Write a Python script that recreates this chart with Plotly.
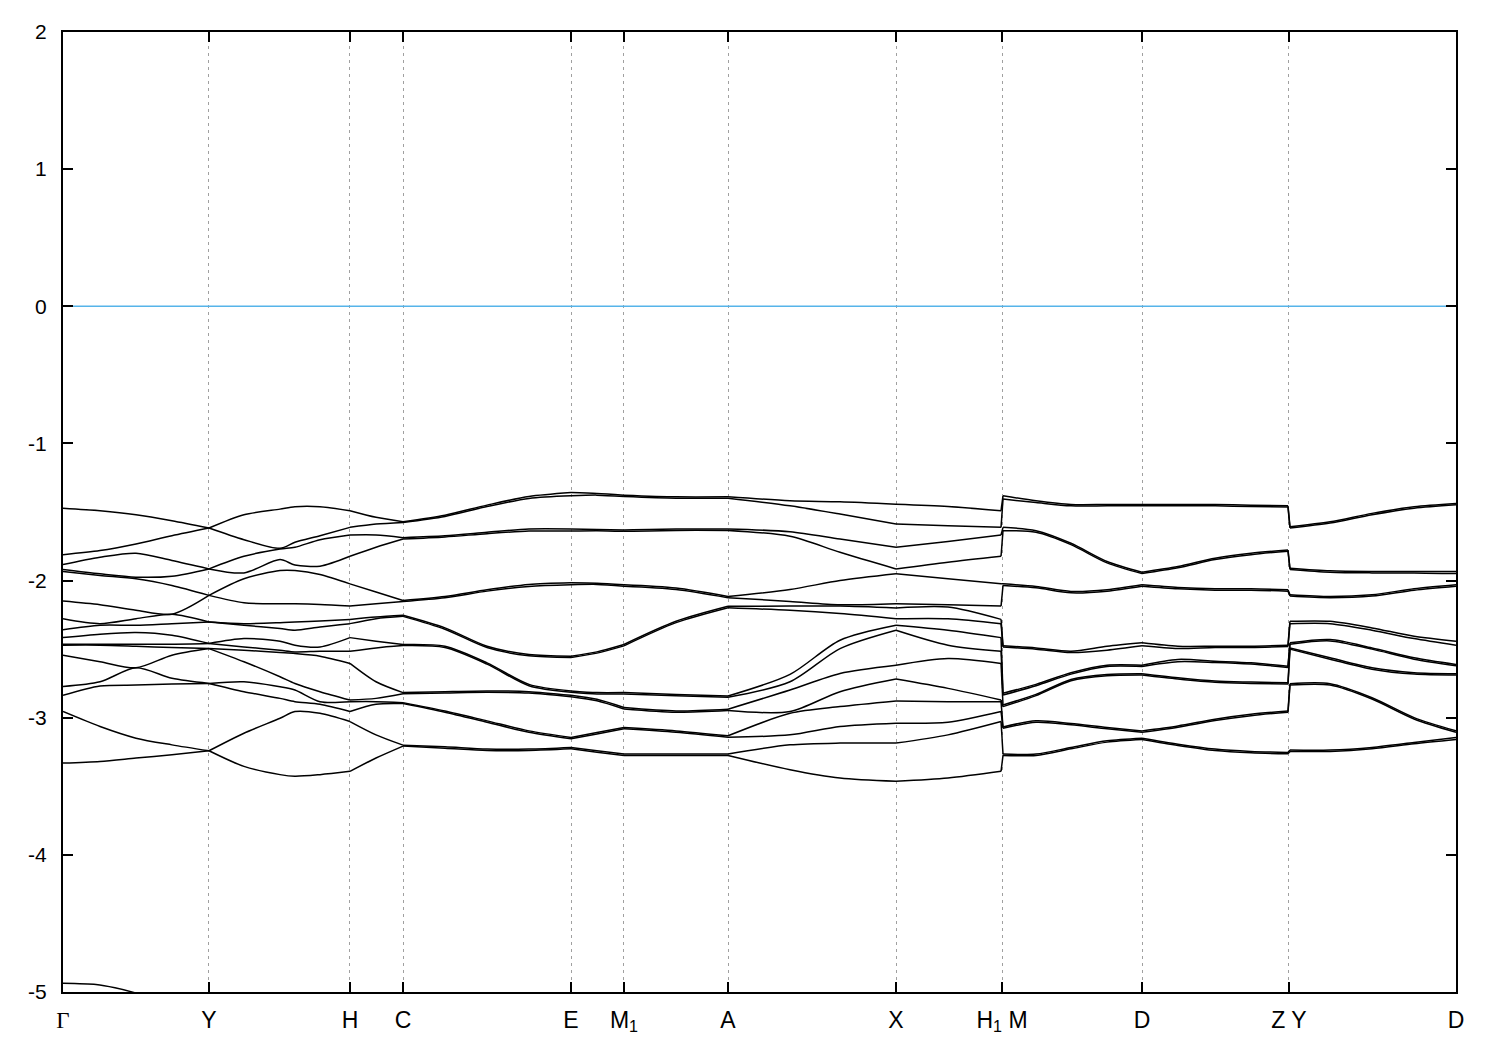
import plotly.graph_objects as go

# ---------------- data (energies in eV) ----------------
# k-path coordinate of each sampled column (Gamma = 0, final D = 1)
k_points = [0.0, 0.0266, 0.0524, 0.0782, 0.1048, 0.1299, 0.1558, 0.1665, 0.1845, 0.2060,
            0.2247, 0.2441, 0.2742, 0.3044, 0.3345, 0.3647, 0.3833, 0.4027, 0.4401, 0.4774,
            0.5219, 0.5578, 0.5980, 0.6353, 0.6734, 0.6748, 0.6985, 0.7236, 0.7495, 0.7746,
            0.8004, 0.8270, 0.8528, 0.8794, 0.8808, 0.9096, 0.9397, 0.9699, 1.0]

# high-symmetry labels and positions
tick_labels = ['<span style="font-family:Liberation Serif">Γ</span>', "Y", "H", "C", "E",
               "M<sub>1</sub>", "A", "X", "H<sub>1</sub> M", "D", "Z Y", "D"]
tick_k = [0.0, 0.1048, 0.2060, 0.2441, 0.3647, 0.4027, 0.4774, 0.5980, 0.6741, 0.7746, 0.8801, 1.0]

energy_ticks = [-5, -4, -3, -2, -1, 0, 1, 2]
energy_tick_text = ["-5", "-4", "-3", "-2", "-1", "0", "1", "2"]

# energies of the 16 bands (sorted) at each column
col00 = [-1.472, -1.811, -1.883, -1.919, -1.934, -2.149, -2.278, -2.358, -2.416, -2.464, -2.471, -2.544, -2.772, -2.837, -2.955, -3.331]
col01 = [-1.491, -1.781, -1.830, -1.951, -1.963, -2.176, -2.314, -2.326, -2.391, -2.464, -2.471, -2.592, -2.738, -2.769, -3.064, -3.319]
col02 = [-1.520, -1.733, -1.801, -1.975, -1.987, -2.217, -2.278, -2.326, -2.379, -2.464, -2.479, -2.636, -2.636, -2.762, -3.149, -3.294]
col03 = [-1.564, -1.673, -1.854, -1.968, -2.036, -2.245, -2.245, -2.314, -2.399, -2.464, -2.488, -2.544, -2.713, -2.755, -3.198, -3.270]
col04 = [-1.617, -1.617, -1.915, -1.915, -2.108, -2.108, -2.302, -2.302, -2.459, -2.459, -2.496, -2.496, -2.750, -2.750, -3.241, -3.241]
col05 = [-1.520, -1.702, -1.823, -1.944, -1.987, -2.162, -2.314, -2.326, -2.423, -2.484, -2.508, -2.592, -2.738, -2.810, -3.113, -3.355]
col06 = [-1.479, -1.765, -1.770, -1.847, -1.927, -2.169, -2.307, -2.350, -2.442, -2.508, -2.525, -2.701, -2.774, -2.859, -3.004, -3.415]
col07 = [-1.462, -1.721, -1.757, -1.886, -1.927, -2.169, -2.302, -2.362, -2.471, -2.520, -2.532, -2.750, -2.798, -2.883, -2.955, -3.427]
col08 = [-1.462, -1.673, -1.702, -1.895, -1.956, -2.174, -2.295, -2.338, -2.484, -2.515, -2.551, -2.810, -2.883, -2.902, -2.968, -3.415]
col09 = [-1.491, -1.612, -1.668, -1.823, -2.024, -2.186, -2.283, -2.314, -2.416, -2.515, -2.604, -2.871, -2.883, -2.955, -3.028, -3.391]
col10 = [-1.539, -1.588, -1.668, -1.757, -2.084, -2.169, -2.266, -2.278, -2.442, -2.491, -2.738, -2.859, -2.883, -2.902, -3.125, -3.294]
col11 = [-1.571, -1.576, -1.687, -1.697, -2.145, -2.152, -2.253, -2.261, -2.466, -2.474, -2.817, -2.825, -2.890, -2.897, -3.200, -3.207]
col12 = [-1.523, -1.532, -1.673, -1.682, -2.116, -2.125, -2.345, -2.355, -2.479, -2.488, -2.810, -2.820, -2.951, -2.960, -3.212, -3.222]
col13 = [-1.450, -1.460, -1.648, -1.658, -2.067, -2.077, -2.479, -2.488, -2.600, -2.609, -2.805, -2.815, -3.023, -3.033, -3.229, -3.239]
col14 = [-1.387, -1.401, -1.624, -1.639, -2.028, -2.043, -2.539, -2.549, -2.757, -2.767, -2.810, -2.820, -3.096, -3.106, -3.229, -3.239]
col15 = [-1.358, -1.382, -1.624, -1.639, -2.016, -2.031, -2.551, -2.561, -2.805, -2.815, -2.837, -2.847, -3.144, -3.154, -3.217, -3.227]
col16 = [-1.365, -1.377, -1.627, -1.636, -2.019, -2.028, -2.520, -2.529, -2.817, -2.827, -2.866, -2.876, -3.108, -3.118, -3.241, -3.251]
col17 = [-1.377, -1.387, -1.631, -1.641, -2.031, -2.041, -2.466, -2.476, -2.817, -2.827, -2.926, -2.936, -3.072, -3.081, -3.265, -3.275]
col18 = [-1.389, -1.399, -1.624, -1.634, -2.055, -2.065, -2.297, -2.307, -2.830, -2.839, -2.951, -2.960, -3.096, -3.106, -3.265, -3.275]
col19 = [-1.389, -1.399, -1.624, -1.634, -2.116, -2.125, -2.188, -2.198, -2.842, -2.851, -2.938, -2.948, -3.132, -3.142, -3.265, -3.275]
col20 = [-1.418, -1.455, -1.644, -1.677, -2.065, -2.152, -2.186, -2.217, -2.684, -2.738, -2.798, -2.955, -2.968, -3.125, -3.198, -3.379]
col21 = [-1.426, -1.515, -1.697, -1.794, -2.000, -2.176, -2.186, -2.241, -2.435, -2.496, -2.677, -2.810, -2.919, -3.064, -3.185, -3.440]
col22 = [-1.443, -1.588, -1.757, -1.915, -1.951, -2.169, -2.200, -2.278, -2.326, -2.362, -2.617, -2.718, -2.878, -3.040, -3.185, -3.464]
col23 = [-1.460, -1.600, -1.716, -1.866, -1.987, -2.176, -2.193, -2.278, -2.362, -2.471, -2.568, -2.786, -2.883, -3.033, -3.125, -3.440]
col24 = [-1.491, -1.612, -1.668, -1.823, -2.024, -2.186, -2.283, -2.314, -2.416, -2.515, -2.604, -2.871, -2.883, -2.955, -3.028, -3.391]
col25 = [-1.382, -1.406, -1.612, -1.636, -2.024, -2.036, -2.476, -2.484, -2.822, -2.834, -2.907, -2.919, -3.067, -3.077, -3.265, -3.275]
col26 = [-1.418, -1.431, -1.636, -1.648, -2.043, -2.053, -2.491, -2.500, -2.757, -2.767, -2.830, -2.839, -3.023, -3.033, -3.265, -3.275]
col27 = [-1.445, -1.455, -1.728, -1.738, -2.079, -2.089, -2.515, -2.525, -2.672, -2.682, -2.721, -2.730, -3.043, -3.052, -3.217, -3.227]
col28 = [-1.445, -1.455, -1.861, -1.871, -2.067, -2.077, -2.479, -2.508, -2.617, -2.626, -2.684, -2.694, -3.072, -3.081, -3.168, -3.178]
col29 = [-1.445, -1.455, -1.939, -1.949, -2.031, -2.041, -2.454, -2.476, -2.617, -2.626, -2.679, -2.689, -3.096, -3.106, -3.149, -3.159]
col30 = [-1.445, -1.455, -1.898, -1.907, -2.050, -2.060, -2.479, -2.496, -2.575, -2.592, -2.709, -2.718, -3.060, -3.069, -3.193, -3.202]
col31 = [-1.445, -1.455, -1.837, -1.847, -2.060, -2.070, -2.479, -2.488, -2.588, -2.597, -2.733, -2.742, -3.011, -3.021, -3.229, -3.239]
col32 = [-1.450, -1.460, -1.801, -1.811, -2.060, -2.070, -2.479, -2.488, -2.600, -2.609, -2.740, -2.750, -2.975, -2.985, -3.246, -3.256]
col33 = [-1.455, -1.464, -1.777, -1.786, -2.067, -2.077, -2.471, -2.481, -2.624, -2.633, -2.745, -2.755, -2.951, -2.960, -3.253, -3.263]
col34 = [-1.607, -1.617, -1.910, -1.919, -2.103, -2.113, -2.297, -2.314, -2.454, -2.464, -2.491, -2.500, -2.752, -2.762, -3.236, -3.246]
col35 = [-1.571, -1.581, -1.929, -1.939, -2.116, -2.125, -2.297, -2.314, -2.430, -2.440, -2.563, -2.573, -2.752, -2.762, -3.236, -3.246]
col36 = [-1.510, -1.520, -1.934, -1.944, -2.103, -2.113, -2.345, -2.362, -2.491, -2.500, -2.636, -2.646, -2.854, -2.864, -3.217, -3.227]
col37 = [-1.462, -1.472, -1.934, -1.944, -2.060, -2.070, -2.406, -2.423, -2.563, -2.573, -2.672, -2.682, -2.999, -3.009, -3.181, -3.190]
col38 = [-1.438, -1.447, -1.934, -1.949, -2.031, -2.041, -2.442, -2.471, -2.612, -2.621, -2.679, -2.689, -3.096, -3.106, -3.144, -3.159]

# deep band near Gamma (leaves the window below -5)
deep_k = [0.0, 0.0237, 0.0373, 0.0514, 0.0782]
deep_E = [-4.936, -4.945, -4.969, -5.005, -5.09]

# column-index ranges of the path pieces (between high-symmetry points / jumps)
pieces = [(0, 4), (4, 9), (9, 11), (11, 15), (15, 17), (17, 19), (19, 22), (22, 24),
          (24, 25), (25, 29), (29, 33), (33, 34), (34, 38)]

fermi_level = 0.0

# ---------------- figure ----------------
columns = [col00, col01, col02, col03, col04, col05, col06, col07, col08, col09,
           col10, col11, col12, col13, col14, col15, col16, col17, col18, col19,
           col20, col21, col22, col23, col24, col25, col26, col27, col28, col29,
           col30, col31, col32, col33, col34, col35, col36, col37, col38]
n_bands = len(col00)
bands = [[c[i] for c in columns] for i in range(n_bands)]

fig = go.Figure()

fig.add_trace(go.Scatter(x=[k_points[0], k_points[-1]], y=[fermi_level, fermi_level], mode="lines",
                         line=dict(color="#56B4E9", width=1.6), hoverinfo="skip", showlegend=False))

for b in bands:
    xs, ys = [], []
    for a, z in pieces:
        xs += k_points[a:z + 1] + [None]
        ys += b[a:z + 1] + [None]
    fig.add_trace(go.Scatter(x=xs, y=ys, mode="lines", connectgaps=False,
                             line=dict(color="black", width=1.5, shape="spline", smoothing=0.8),
                             hoverinfo="skip", showlegend=False))

fig.add_trace(go.Scatter(x=deep_k, y=deep_E, mode="lines",
                         line=dict(color="black", width=1.5, shape="spline", smoothing=0.8),
                         hoverinfo="skip", showlegend=False))

x_font = dict(family="Liberation Sans, Arial, sans-serif", size=23, color="black")
y_font = dict(family="Liberation Sans, Arial, sans-serif", size=21, color="black")

fig.update_layout(
    width=1500, height=1050,
    margin=dict(l=55, r=52, t=20, b=66),
    paper_bgcolor="white", plot_bgcolor="white",
    showlegend=False,
    xaxis=dict(range=[0, 1], tickmode="array", tickvals=tick_k, ticktext=tick_labels,
               showgrid=True, gridcolor="#a0a0a0", gridwidth=1, griddash="3px,4px",
               zeroline=False, showline=True, linecolor="black", linewidth=2, mirror="ticks",
               ticks="inside", ticklen=10, tickwidth=1.5, tickcolor="black",
               tickfont=x_font, ticklabelstandoff=6),
    yaxis=dict(range=[-5, 2], tickmode="array", tickvals=energy_ticks, ticktext=energy_tick_text,
               showgrid=False, zeroline=False, showline=True, linecolor="black", linewidth=2,
               mirror="ticks", ticks="inside", ticklen=10, tickwidth=1.5, tickcolor="black",
               tickfont=y_font, ticklabelstandoff=10),
)

fig.write_html("out.html")
